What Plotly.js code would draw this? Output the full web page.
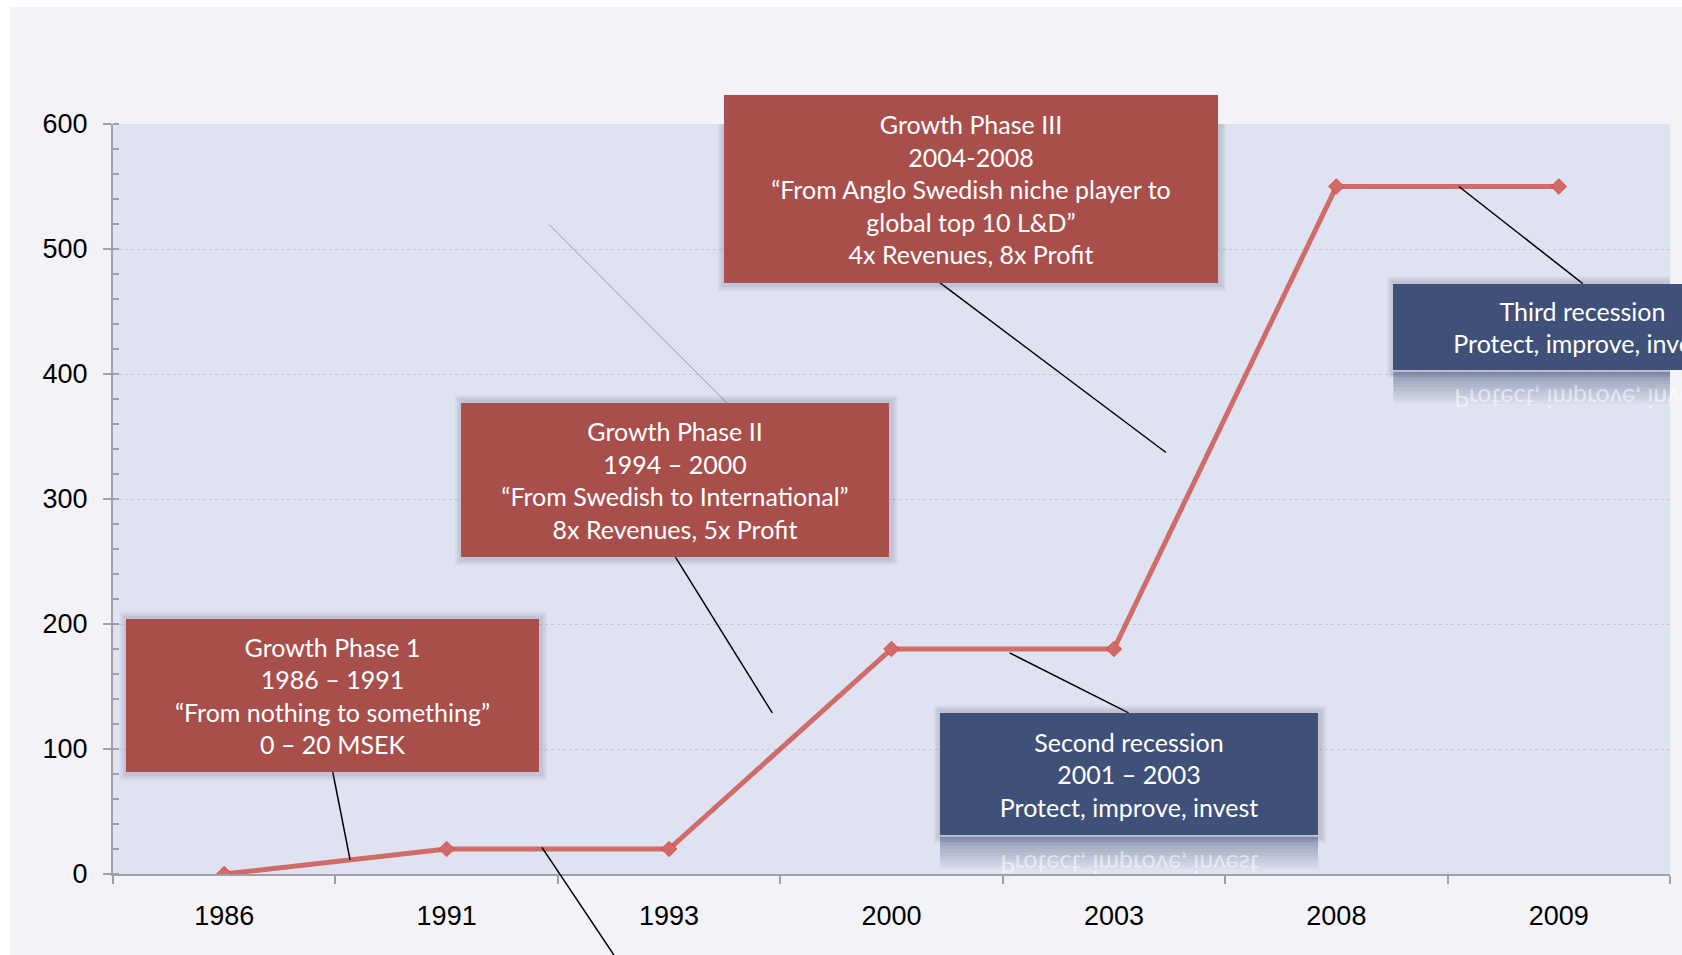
<!DOCTYPE html>
<html>
<head>
<meta charset="utf-8">
<script src="https://cdn.plot.ly/plotly-3.0.1.min.js"></script>
<style>
  html, body { margin: 0; padding: 0; background: #ffffff; }
  #chart { position: absolute; left: 10px; top: 7px; width: 1672px; height: 948px; }
</style>
</head>
<body>
<div id="chart"></div>
<script>
// ---- data ----
const years = ['1986', '1991', '1993', '2000', '2003', '2008', '2009'];
const revenue = [0, 20, 20, 180, 180, 550, 550];
const yTicks = [0, 100, 200, 300, 400, 500, 600];

const phase1Text = ['Growth Phase 1', '1986 – 1991', '“From nothing to something”', '0 – 20 MSEK'];
const phase2Text = ['Growth Phase II', '1994 – 2000', '“From Swedish to International”', '8x Revenues, 5x Profit'];
const phase3Text = ['Growth Phase III', '2004-2008', '“From Anglo Swedish niche player to', 'global top 10 L&amp;D”', '4x Revenues, 8x Profit'];
const recession2Text = ['Second recession', '2001 – 2003', 'Protect, improve, invest'];
const recession3Text = ['Third recession', 'Protect, improve, invest'];

// ---- styling ----
const RED = '#A84F4B';
const BLUE = '#3F5079';
const LINE = '#CF6C6A';
const FS = 25;
const boxFont = {family: 'Lato, "Open Sans", sans-serif', size: FS, color: '#ffffff'};

// box: anchor (data coords), size in px
const boxes = [
  {x: 0.486, y: 142.9, w: 413, h: 153, color: RED, lines: phase1Text},
  {x: 2.028, y: 315.4, w: 428, h: 154, color: RED, lines: phase2Text},
  {x: 3.357, y: 548.1, w: 494, h: 188, color: RED, lines: phase3Text},
  {x: 4.068, y: 80.2, w: 378, h: 122, color: BLUE, lines: recession2Text, reflect: true},
  {x: 6.108, y: 437.8, w: 379, h: 86, color: BLUE, lines: recession3Text, reflect: true}
];

const shapes = [];
const annotations = [];
const reflectIdx = [];

// connector lines
const connectors = [
  {xref: 'x', yref: 'y', x0: 0.488, y0: 81.6, x1: 0.566, y1: 11.3, color: '#000', w: 1.5},
  {xref: 'paper', yref: 'paper', x0: 0.2755, y0: 0.0355, x1: 0.3217, y1: -0.108, color: '#000', w: 1.5},
  {xref: 'x', yref: 'y', x0: 2.028, y0: 253.7, x1: 2.464, y1: 128.9, color: '#000', w: 1.5},
  {xref: 'x', yref: 'y', x0: 1.461, y0: 519.5, x1: 2.270, y1: 375, color: '#8F93C9', w: 1},
  {xref: 'x', yref: 'y', x0: 3.217, y0: 473.1, x1: 4.234, y1: 337.2, color: '#000', w: 1.5},
  {xref: 'x', yref: 'y', x0: 4.066, y0: 128.9, x1: 3.531, y1: 176.9, color: '#000', w: 1.5},
  {xref: 'x', yref: 'y', x0: 6.108, y0: 472.3, x1: 5.551, y1: 550, color: '#000', w: 1.5}
];
connectors.forEach(c => shapes.push({
  type: 'line', xref: c.xref, yref: c.yref, x0: c.x0, y0: c.y0, x1: c.x1, y1: c.y1,
  line: {color: c.color, width: c.w}, layer: 'above'
}));

boxes.forEach(b => {
  // soft shadow
  [7, 5, 3].forEach(s => shapes.push({
    type: 'rect', xref: 'x', yref: 'y', xsizemode: 'pixel', ysizemode: 'pixel',
    xanchor: b.x, yanchor: b.y,
    x0: -b.w / 2 - s + 1, x1: b.w / 2 + s + 1, y0: -b.h / 2 - s - 1, y1: b.h / 2 + s,
    fillcolor: 'rgba(90,95,120,0.08)', line: {width: 0}, layer: 'above'
  }));
  if (b.reflect) {
    const n = 10, band = 3.2;
    for (let i = 0; i < n; i++) {
      shapes.push({
        type: 'rect', xref: 'x', yref: 'y', xsizemode: 'pixel', ysizemode: 'pixel',
        xanchor: b.x, yanchor: b.y,
        x0: -b.w / 2, x1: b.w / 2,
        y0: -b.h / 2 - 2 - (i + 1) * band, y1: -b.h / 2 - 2 - i * band,
        fillcolor: BLUE, opacity: 0.5 * (1 - i / n), line: {width: 0}, layer: 'above'
      });
    }
  }
  annotations.push({
    x: b.x, y: b.y, xref: 'x', yref: 'y', showarrow: false,
    text: b.lines.join('<br>'), align: 'center', valign: 'middle',
    width: b.w, height: b.h, bgcolor: b.color, borderpad: 0, borderwidth: 0,
    font: boxFont
  });
  if (b.reflect) {
    const lineSp = FS * 1.3;
    const lastCenterFromMid = (b.lines.length - 1) * lineSp / 2;
    const mirrorOffset = b.h / 2 + (b.h / 2 - lastCenterFromMid) + 2;
    reflectIdx.push(annotations.length);
    annotations.push({
      x: b.x, y: b.y, xref: 'x', yref: 'y', showarrow: false,
      text: b.lines[b.lines.length - 1], yshift: -mirrorOffset,
      font: {family: boxFont.family, size: FS, color: 'rgba(255,255,255,0.55)'}
    });
  }
});

const trace = {
  x: years, y: revenue, type: 'scatter', mode: 'lines+markers',
  line: {color: LINE, width: 5},
  marker: {symbol: 'diamond', size: 12, color: LINE, line: {color: 'rgba(235,50,40,0.7)', width: 1}},
  hoverinfo: 'x+y'
};

const axisColor = '#A0A0A8';
const tickFont = {family: '"Liberation Sans", Arial, sans-serif', size: 27, color: '#000'};
const layout = {
  width: 1672, height: 948,
  margin: {l: 103, r: 12, t: 117, b: 81},
  paper_bgcolor: '#F3F3F7',
  plot_bgcolor: '#DFE2F0',
  showlegend: false,
  xaxis: {
    type: 'category', categoryorder: 'array', categoryarray: years,
    range: [-0.5, 6.5], tickson: 'boundaries', ticks: 'outside', ticklen: 8, tickwidth: 2,
    tickcolor: axisColor, showline: true, linecolor: axisColor, linewidth: 2,
    showgrid: false, zeroline: false, ticklabelstandoff: 17,
    tickfont: tickFont
  },
  yaxis: {
    range: [0, 600], tickvals: yTicks, ticks: 'outside', ticklen: 8, tickwidth: 2,
    tickcolor: axisColor, showline: true, linecolor: axisColor, linewidth: 2,
    showgrid: true, gridcolor: '#C6C8D6', griddash: 'dot', gridwidth: 1, zeroline: false,
    minor: {dtick: 20, ticks: 'inside', ticklen: 6, tickwidth: 2, tickcolor: axisColor, showgrid: false},
    ticklabelstandoff: 10,
    tickfont: tickFont
  },
  shapes: shapes,
  annotations: annotations
};

const gd = document.getElementById('chart');
Plotly.newPlot(gd, [trace], layout, {displayModeBar: false, staticPlot: true}).then(() => {
  reflectIdx.forEach(i => {
    const g = gd.querySelector('.annotation[data-index="' + i + '"]');
    if (!g) return;
    const t = g.querySelector('text.annotation-text');
    if (!t) return;
    const bb = t.getBBox();
    const cy = bb.y + bb.height / 2;
    const prev = t.getAttribute('transform') || '';
    t.setAttribute('transform', (prev + ' translate(0,' + (2 * cy) + ') scale(1,-1)').trim());
  });
});
</script>
</body>
</html>
